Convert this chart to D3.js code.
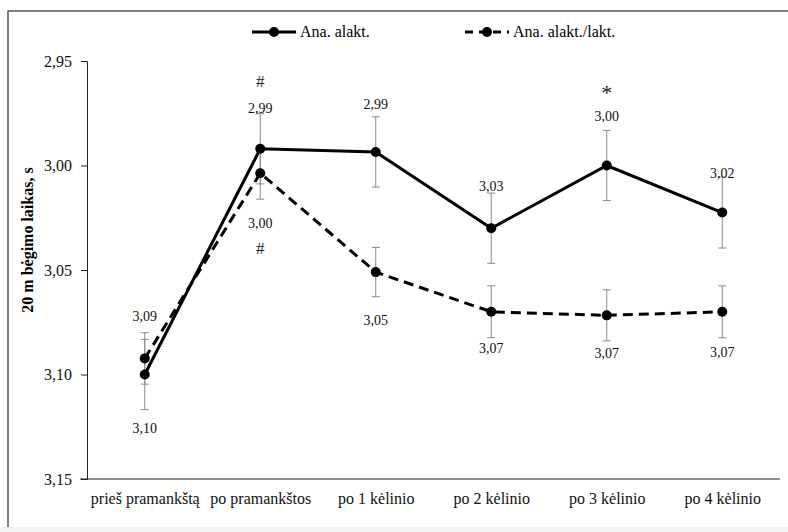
<!DOCTYPE html>
<html>
<head>
	<meta charset="utf-8">
	<title>20 m bėgimo laikas</title>
	<style>
		body { margin: 0; background: #fff; }
		svg { display: block; }
		svg text { font-family: "Liberation Serif", "Times New Roman", "DejaVu Serif", serif !important; }
	</style>
</head>
<body>
<svg width="788" height="532"></svg>
<script src="https://cdn.jsdelivr.net/npm/d3@7"></script>
<script>
	// duomenys
	const categories = ["prieš pramankštą", "po pramankštos", "po 1 kėlinio", "po 2 kėlinio", "po 3 kėlinio", "po 4 kėlinio"]
	const seriesNames = ["Ana. alakt.", "Ana. alakt./lakt."]
	const solidValues = [3.100, 2.992, 2.9935, 3.030, 3.000, 3.0225]
	const solidErr = [0.0168, 0.0168, 0.0168, 0.0168, 0.0168, 0.0170]
	const solidLabels = ["3,10", "2,99", "2,99", "3,03", "3,00", "3,02"]
	const dashedValues = [3.0923, 3.0037, 3.051, 3.070, 3.0717, 3.070]
	const dashedErr = [0.0123, 0.0124, 0.0118, 0.0124, 0.0122, 0.0124]
	const dashedLabels = ["3,09", "3,00", "3,05", "3,07", "3,07", "3,07"]
	const yTicks = [2.95, 3.00, 3.05, 3.10, 3.15]
	// žymės: kategorija, ženklas, virš ar po tašku
	const marks = [
		{ cat: 1, text: "#", series: 0, side: "above" },
		{ cat: 1, text: "#", series: 1, side: "below" },
		{ cat: 4, text: "*", series: 0, side: "above" }
	]

	// išdėstymas
	const svg = d3.select("svg")
	const mLeft = 87, mRight = 780, mTop = 61, mBottom = 479

	const x = d3.scalePoint().domain(categories).range([mLeft, mRight]).padding(0.5)
	const y = d3.scaleLinear().domain([2.95, 3.15]).range([mTop, mBottom])

	// rėmelis
	svg.append("rect").attr("x", 8).attr("y", 11).attr("width", 800).attr("height", 560)
		.attr("fill", "#fff").attr("stroke", "#555").attr("stroke-width", 1.5)

	// y ašis
	const yAxis = svg.append("g").attr("transform", `translate(${mLeft},0)`)
		.call(d3.axisLeft(y).tickValues(yTicks).tickSize(6).tickPadding(9)
			.tickFormat(d => d3.format(".2f")(d).replace(".", ",")))
	yAxis.select(".domain").attr("stroke", "#222")
	yAxis.selectAll(".tick line").attr("stroke", "#222")
	yAxis.selectAll("text").attr("font-size", 16).attr("fill", "#111")

	// x ašis
	const xAxis = svg.append("g").attr("transform", `translate(0,${mBottom})`)
		.call(d3.axisBottom(x).tickSize(0).tickPadding(14).tickSizeOuter(0))
	xAxis.select(".domain").attr("stroke", "#222").attr("d", `M${mLeft - 7},0H${mRight}`)
	xAxis.selectAll("text").attr("font-size", 16).attr("fill", "#111")

	// ašies pavadinimas
	svg.append("text").attr("transform", "translate(33,240) rotate(-90)")
		.attr("text-anchor", "middle").attr("font-size", 16).attr("font-weight", "bold")
		.text("20 m bėgimo laikas, s")

	const series = [
		{ values: solidValues, err: solidErr, labels: solidLabels, dash: null,
			labelSide: ["below", "above", "above", "above", "above", "above"],
			labelDy: [23, -1, -8, -2, -9, 1] },
		{ values: dashedValues, err: dashedErr, labels: dashedLabels, dash: "10,6",
			labelSide: ["above", "below", "below", "below", "below", "below"],
			labelDy: [-12, 29, 28, 15, 17, 19] }
	]

	// paklaidos
	series.forEach(s => {
		const g = svg.append("g").attr("stroke", "#8a8a8a").attr("stroke-width", 1)
		s.values.forEach((v, i) => {
			const cx = x(categories[i]), y1 = y(v - s.err[i]), y2 = y(v + s.err[i])
			g.append("line").attr("x1", cx).attr("x2", cx).attr("y1", y1).attr("y2", y2)
			g.append("line").attr("x1", cx - 4).attr("x2", cx + 4).attr("y1", y1).attr("y2", y1)
			g.append("line").attr("x1", cx - 4).attr("x2", cx + 4).attr("y1", y2).attr("y2", y2)
		})
	})

	// linijos ir taškai
	const line = d3.line().x((d, i) => x(categories[i])).y(d => y(d))
	series.slice().reverse().forEach(s => {
		svg.append("path").datum(s.values).attr("d", line)
			.attr("fill", "none").attr("stroke", "#000").attr("stroke-width", 3)
			.attr("stroke-dasharray", s.dash)
		svg.selectAll(null).data(s.values).enter().append("circle")
			.attr("cx", (d, i) => x(categories[i])).attr("cy", d => y(d)).attr("r", 5)
			.attr("fill", "#000")
	})

	// reikšmių etiketės
	series.forEach(s => {
		svg.selectAll(null).data(s.labels).enter().append("text")
			.attr("x", (d, i) => x(categories[i]))
			.attr("y", (d, i) => {
				const v = s.values[i]
				const end = s.labelSide[i] === "above" ? y(v - s.err[i]) : y(v + s.err[i])
				return end + s.labelDy[i]
			})
			.attr("text-anchor", "middle").attr("font-size", 14).attr("fill", "#111")
			.text(d => d)
	})

	// reikšmingumo žymės
	marks.forEach(m => {
		const s = series[m.series]
		const v = s.values[m.cat]
		const star = m.text === "*"
		const yy = m.side === "above" ? y(v - s.err[m.cat]) - (star ? 30 : 27) : y(v + s.err[m.cat]) + 55
		svg.append("text").attr("x", x(categories[m.cat])).attr("y", yy)
			.attr("text-anchor", "middle").attr("font-size", star ? 22 : 17).attr("fill", "#222")
			.text(m.text)
	})

	// legenda
	const legend = svg.append("g").attr("transform", "translate(252,32)")
	series.forEach((s, i) => {
		const g = legend.append("g").attr("transform", `translate(${i * 213},0)`)
		g.append("line").attr("x1", 0).attr("x2", 44).attr("y1", 0).attr("y2", 0)
			.attr("stroke", "#000").attr("stroke-width", 3).attr("stroke-dasharray", s.dash ? "8,6" : null)
		g.append("circle").attr("cx", 22).attr("cy", 0).attr("r", 5).attr("fill", "#000")
		g.append("text").attr("x", 48).attr("y", 5).attr("font-size", 16).text(seriesNames[i])
	})

	// apatinė juosta
	svg.append("rect").attr("x", 0).attr("y", 527).attr("width", 788).attr("height", 5).attr("fill", "#f2f2f2")
</script>
</body>
</html>
